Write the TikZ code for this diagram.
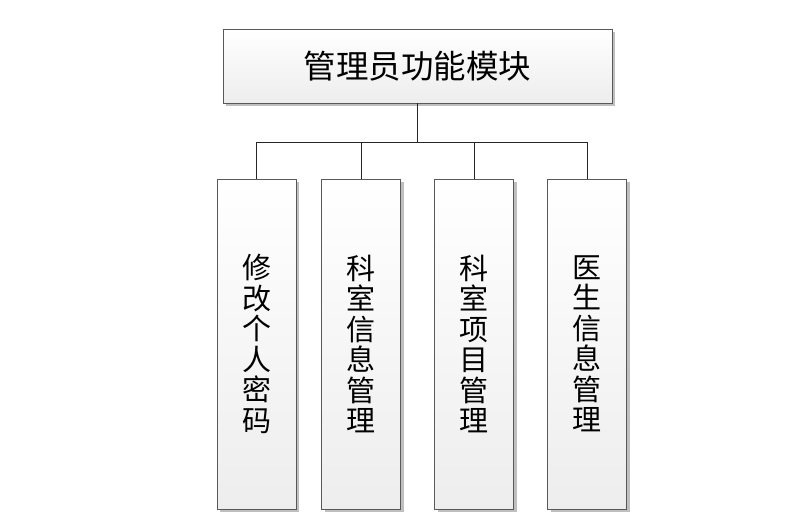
\documentclass[tikz,border=0pt]{standalone}
\usepackage{fontspec}
\newfontfamily\cjk{Noto Sans CJK SC}
\usetikzlibrary{shadows}
\begin{document}
\begin{tikzpicture}[x=1pt,y=-1pt,
  box/.style={draw=black!65, line width=0.9pt, top color=white, bottom color=black!7,
    drop shadow={shadow xshift=3pt, shadow yshift=-3pt, fill=black!25, opacity=1},
    inner sep=0pt, align=center},
  topbox/.style={box, minimum width=389pt, minimum height=74pt, font=\cjk\fontsize{32.5}{34}\selectfont},
  colbox/.style={box, minimum width=79pt, minimum height=330pt, font=\cjk\fontsize{29}{30.5}\selectfont},
  conn/.style={draw=black!85, line width=0.9pt}]
\useasboundingbox (0,0) rectangle (810,520);
\node[topbox] (top) at (417.5,66) {管理员功能模块};
\node[colbox] (c1) at (256.5,344) {修\\改\\个\\人\\密\\码};
\node[colbox] (c2) at (361,344) {科\\室\\信\\息\\管\\理};
\node[colbox] (c3) at (474,344) {科\\室\\项\\目\\管\\理};
\node[colbox] (c4) at (587,344) {医\\生\\信\\息\\管\\理};
\path (top.south) ++(0,39) coordinate (bus);
\draw[conn] (top.south) -- (bus);
\draw[conn] (c1.north) |- (bus) -| (c4.north);
\draw[conn] (c2.north) -- (c2.north |- bus);
\draw[conn] (c3.north) -- (c3.north |- bus);
\end{tikzpicture}
\end{document}
